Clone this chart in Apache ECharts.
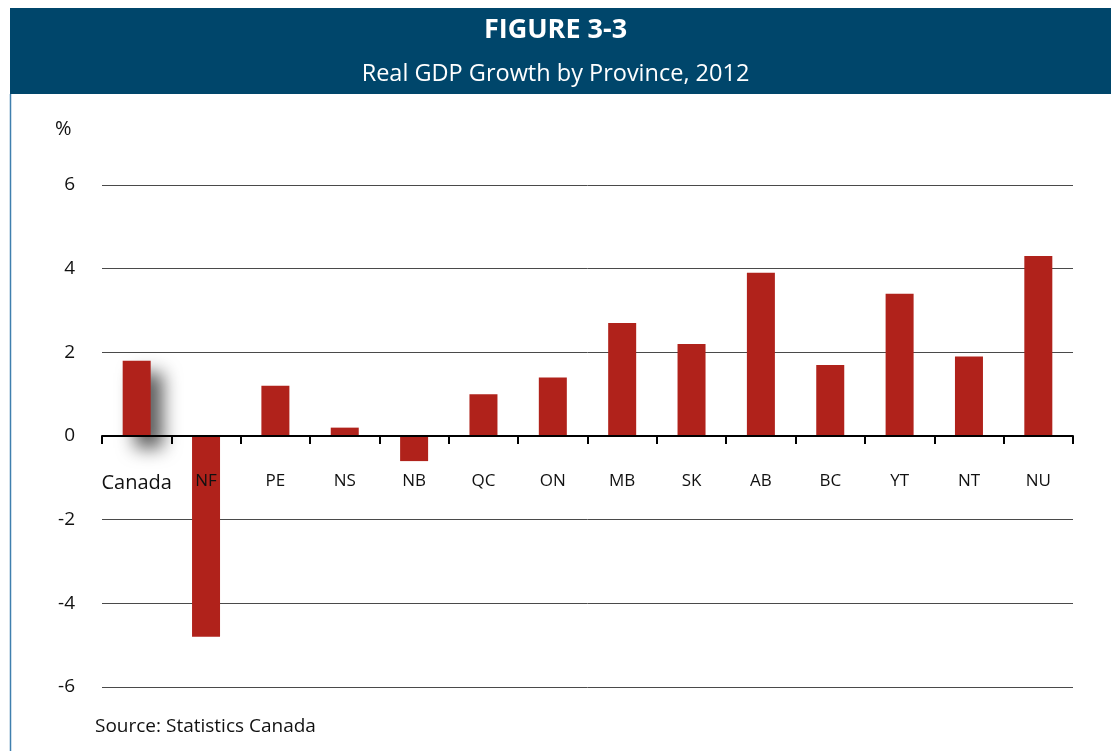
<!DOCTYPE html>
<html>
<head>
<meta charset="utf-8">
<script src="https://cdn.jsdelivr.net/npm/echarts@6/dist/echarts.min.js"></script>
<style>
  html, body { margin: 0; padding: 0; background: #ffffff; }
  #chart { width: 1111px; height: 751px; }
</style>
</head>
<body>
<div id="chart"></div>
<script>
// Real GDP growth by province, 2012 (%)
const categories = ['Canada', 'NF', 'PE', 'NS', 'NB', 'QC', 'ON', 'MB', 'SK', 'AB', 'BC', 'YT', 'NT', 'NU'];
const growth = [1.8, -4.8, 1.2, 0.2, -0.6, 1.0, 1.4, 2.7, 2.2, 3.9, 1.7, 3.4, 1.9, 4.3];
const yTicks = [-6, -4, -2, 0, 2, 4, 6];

const FONT = '"Open Sans", "Noto Sans", sans-serif';
const BAR = '#b0221b';
const HEADER = '#00466b';

// plot area
const GRID_TOP = 185, GRID_BOTTOM = 64, H = 751;
const plotH = H - GRID_TOP - GRID_BOTTOM;
const yMin = yTicks[0], yMax = yTicks[yTicks.length - 1];
// distance from the plot bottom up to the zero line
const zeroOffset = plotH * (0 - yMin) / (yMax - yMin);

const chart = echarts.init(document.getElementById('chart'), null, { renderer: 'canvas' });

const barData = growth.map((v, i) => i === 0
  ? { value: v, itemStyle: { shadowColor: 'rgba(0,0,0,0.65)', shadowBlur: 18, shadowOffsetX: 12, shadowOffsetY: 12 } }
  : v);

chart.setOption({
  animation: false,
  backgroundColor: '#ffffff',
  graphic: [
    { type: 'rect', shape: { x: 10, y: 8, width: 1101, height: 86 }, style: { fill: HEADER }, z: -1 },
    { type: 'line', shape: { x1: 10.5, y1: 94, x2: 10.5, y2: 751 }, style: { stroke: '#3f7fae', lineWidth: 1.5 } },
    { type: 'text', left: 55, top: 119, style: { text: '%', font: '20px ' + FONT, fill: '#111' } },
    { type: 'text', left: 95, top: 717, style: { text: 'Source: Statistics Canada', font: '19px ' + FONT, fill: '#111' } }
  ],
  title: [
    { text: 'FIGURE 3-3', left: 'center', top: 17, padding: 0,
      textStyle: { color: '#ffffff', fontFamily: FONT, fontWeight: 'bold', fontSize: 27 } },
    { text: 'Real GDP Growth by Province, 2012', left: 'center', top: 62, padding: 0,
      textStyle: { color: '#ffffff', fontFamily: FONT, fontWeight: 'normal', fontSize: 23.5 } }
  ],
  grid: { left: 102, right: 38, top: GRID_TOP, bottom: GRID_BOTTOM, containLabel: false },
  xAxis: {
    type: 'category',
    data: categories,
    position: 'bottom',
    offset: -zeroOffset,
    axisLine: { onZero: false, lineStyle: { color: '#000', width: 2 } },
    axisTick: { show: true, inside: false, length: 8, lineStyle: { color: '#000', width: 2 } },
    axisLabel: {
      interval: 0, margin: 37, color: '#111', fontFamily: FONT, fontSize: 17,
      formatter: v => v === 'Canada' ? '{big|' + v + '}' : v,
      rich: { big: { fontSize: 20, fontFamily: FONT, color: '#111' } }
    },
    splitLine: { show: false },
    z: 3
  },
  yAxis: {
    type: 'value',
    min: yMin, max: yMax, interval: 2,
    axisLine: { show: false },
    axisTick: { show: false },
    axisLabel: { margin: 27, color: '#111', fontFamily: FONT, fontSize: 19 },
    splitLine: { lineStyle: { color: '#4a4a4a', width: 1 } }
  },
  series: [{
    type: 'bar',
    data: barData,
    barWidth: 28,
    itemStyle: { color: BAR },
    z: 1
  }]
});
</script>
</body>
</html>
